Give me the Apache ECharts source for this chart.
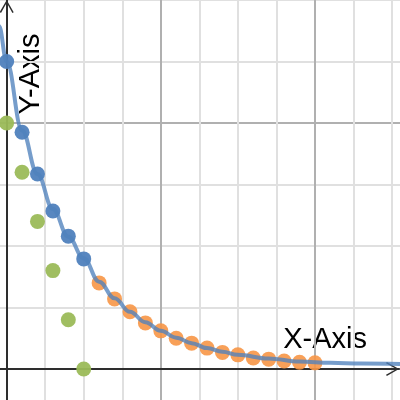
<!DOCTYPE html>
<html>
<head>
<meta charset="utf-8">
<script src="https://cdn.jsdelivr.net/npm/echarts@6/dist/echarts.min.js"></script>
<style>
  html, body { margin: 0; padding: 0; background: #fff; }
  #chart { width: 400px; height: 400px; }
</style>
</head>
<body>
<div id="chart"></div>
<script>
// 数据
var blueX = [0, 0.2, 0.4, 0.6, 0.8, 1.0];
var blueY = [5.0, 3.85, 3.17, 2.57, 2.16, 1.79];
var greenY = [4.0, 3.2, 2.4, 1.6, 0.8, 0.0];
var orangeX = [1.2, 1.4, 1.6, 1.8, 2.0, 2.2, 2.4, 2.6, 2.8, 3.0, 3.2, 3.4, 3.6, 3.8, 4.0];
var orangeY = [1.40, 1.14, 0.93, 0.75, 0.62, 0.50, 0.42, 0.34, 0.27, 0.23, 0.18, 0.16, 0.13, 0.11, 0.10];
var curveX = [-0.2, -0.1, 0, 0.2, 0.4, 0.6, 0.8, 1.0, 1.2, 1.4, 1.6, 1.8, 2.0, 2.2, 2.4, 2.6, 2.8, 3.0, 3.4, 3.8, 4.2, 4.6, 5.2];
var curveY = [6.2, 5.58, 5.0, 3.88, 3.17, 2.6, 2.15, 1.8, 1.42, 1.15, 0.93, 0.76, 0.62, 0.51, 0.42, 0.34, 0.28, 0.23, 0.17, 0.12, 0.10, 0.09, 0.08];

function pairs(xs, ys) {
    return xs.map(function (x, i) { return [x, ys[i]]; });
}

// 开口箭头
var chevron = 'path://M0,13 L7.5,0 L15,13 L13.6,13.9 L7.5,2.9 L1.4,13.9 Z';

var myChart = echarts.init(document.getElementById('chart'));

var option = {
    backgroundColor: '#ffffff',
    animation: false,
    grid: [
        // 网格线用的大坐标系（超出画布）
        { left: -147.5, top: -123, width: 616.6, height: 738, outerBoundsMode: 'none' },
        // 画坐标轴箭头用
        { left: 0, top: 0, width: 399, height: 400, outerBoundsMode: 'none' }
    ],
    xAxis: [
        {
            type: 'value', gridIndex: 0, min: -2, max: 6, interval: 2,
            axisLine: { show: false }, axisTick: { show: false }, axisLabel: { show: false },
            splitLine: { show: true, lineStyle: { color: '#b0b0b0', width: 2 } },
            minorTick: { show: false, splitNumber: 4 },
            minorSplitLine: { show: true, lineStyle: { color: '#e0e0e0', width: 2 } }
        },
        {
            type: 'value', gridIndex: 1, min: -0.0869, max: 5.088,
            axisLine: {
                show: true, onZero: true,
                symbol: ['none', chevron], symbolSize: [15, 13], symbolOffset: [0, -6.5],
                lineStyle: { color: '#2e2e2e', width: 2 }
            },
            axisTick: { show: false }, axisLabel: { show: false }, splitLine: { show: false }
        }
    ],
    yAxis: [
        {
            type: 'value', gridIndex: 0, min: -4, max: 8, interval: 4,
            axisLine: { show: false }, axisTick: { show: false }, axisLabel: { show: false },
            splitLine: { show: true, lineStyle: { color: '#b0b0b0', width: 2 } },
            minorTick: { show: false, splitNumber: 4 },
            minorSplitLine: { show: true, lineStyle: { color: '#e0e0e0', width: 2 } }
        },
        {
            type: 'value', gridIndex: 1, min: -0.504, max: 6.0,
            axisLine: {
                show: true, onZero: true,
                symbol: ['none', chevron], symbolSize: [15, 13], symbolOffset: [0, -6.5],
                lineStyle: { color: '#2e2e2e', width: 2 }
            },
            axisTick: { show: false }, axisLabel: { show: false }, splitLine: { show: false }
        }
    ],
    graphic: [
        {
            type: 'text', x: 367, y: 340,
            style: { text: 'X-Axis', font: '29px "Liberation Sans", Arial, sans-serif', fill: '#000', textAlign: 'right', textVerticalAlign: 'middle' }
        },
        {
            type: 'text', x: 30.5, y: 74, rotation: Math.PI / 2,
            style: { text: 'Y-Axis', font: '29px "Liberation Sans", Arial, sans-serif', fill: '#000', textAlign: 'center', textVerticalAlign: 'middle' }
        }
    ],
    series: [
        {
            name: 'green', type: 'scatter', xAxisIndex: 0, yAxisIndex: 0,
            symbolSize: 15, itemStyle: { color: '#9bbb59', opacity: 0.95 },
            data: pairs(blueX, greenY)
        },
        {
            name: 'orange', type: 'scatter', xAxisIndex: 0, yAxisIndex: 0,
            symbolSize: 15, itemStyle: { color: '#f79646', opacity: 0.9 },
            data: pairs(orangeX, orangeY)
        },
        {
            name: 'curve', type: 'line', xAxisIndex: 0, yAxisIndex: 0,
            smooth: 0.4, smoothMonotone: 'x', showSymbol: false,
            lineStyle: { color: 'rgba(79,129,189,0.78)', width: 4 },
            data: pairs(curveX, curveY)
        },
        {
            name: 'blue', type: 'scatter', xAxisIndex: 0, yAxisIndex: 0,
            symbolSize: 15, itemStyle: { color: '#4f81bd', opacity: 0.95 },
            data: pairs(blueX, blueY)
        }
    ]
};

myChart.setOption(option);
window.addEventListener('resize', function () { myChart.resize(); });
</script>
</body>
</html>
